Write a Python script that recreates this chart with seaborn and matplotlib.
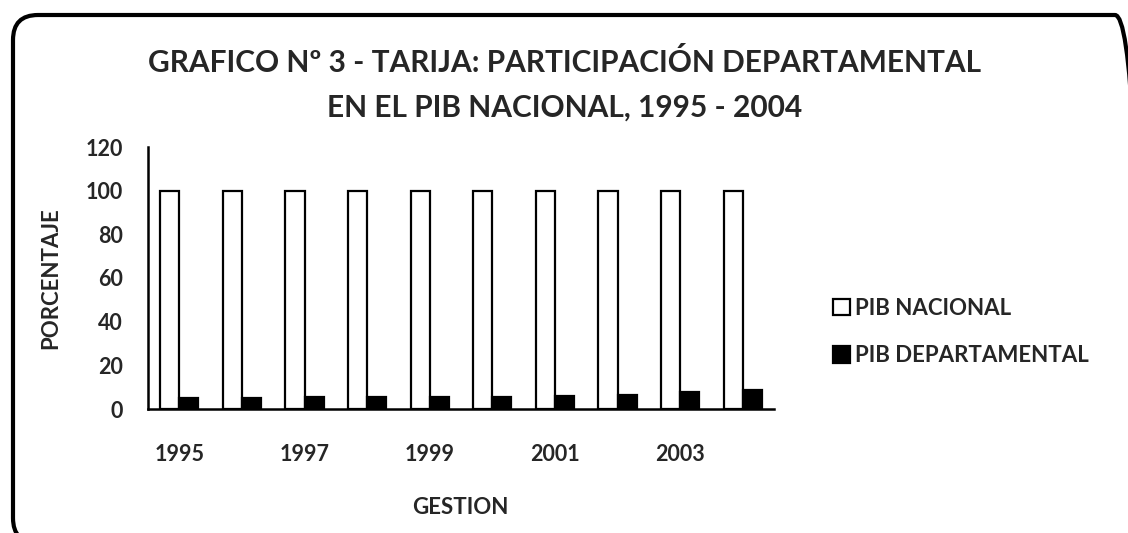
import matplotlib
matplotlib.use("Agg")
import matplotlib.pyplot as plt
from matplotlib.patches import FancyBboxPatch, Patch
from matplotlib.transforms import IdentityTransform
import seaborn as sns
import pandas as pd

years = ["1995", "1996", "1997", "1998", "1999", "2000", "2001", "2002", "2003", "2004"]
pib_nacional = [100, 100, 100, 100, 100, 100, 100, 100, 100, 100]
pib_departamental = [5.0, 5.0, 5.6, 5.6, 5.6, 5.6, 6.1, 6.6, 8.0, 8.9]
series = ["PIB NACIONAL", "PIB DEPARTAMENTAL"]
y_ticks = [0, 20, 40, 60, 80, 100, 120]

df = pd.DataFrame({
    "GESTION": years * 2,
    "valor": pib_nacional + pib_departamental,
    "serie": [series[0]] * len(years) + [series[1]] * len(years),
})

sns.set_theme(style="white")
plt.rcParams["font.family"] = ["Lato", "DejaVu Sans"]
plt.rcParams["font.weight"] = "bold"

W, H = 1128, 533
fig = plt.figure(figsize=(W / 100, H / 100), dpi=100)
ax = fig.add_axes([148 / W, 1 - 409 / H, (774 - 148) / W, (409 - 147) / H])

sns.barplot(data=df, x="GESTION", y="valor", hue="serie", hue_order=series,
            palette=["white", "black"], edgecolor="black", linewidth=1.6,
            width=0.61, ax=ax, legend=False)

ax.set_ylim(0, 120)
ax.set_yticks(y_ticks)
ax.set_yticklabels([str(t) for t in y_ticks], fontsize=15.5, fontweight="bold")
ax.set_xlim(-0.5, len(years) - 0.5)
ax.set_xticks(range(len(years)))
ax.set_xticklabels([y if i % 2 == 0 else "" for i, y in enumerate(years)],
                   fontsize=15.5, fontweight="bold")
ax.tick_params(axis="both", length=0)
ax.tick_params(axis="x", pad=25)
ax.tick_params(axis="y", pad=18)
for s in ["top", "right"]:
    ax.spines[s].set_visible(False)
for s in ["left", "bottom"]:
    ax.spines[s].set_color("black")
    ax.spines[s].set_linewidth(1.8)
ax.set_xlabel("")
ax.set_ylabel("")

fig.text(51 / W, 1 - 278 / H, "PORCENTAJE", rotation=90, ha="center", va="center",
         fontsize=16, fontweight="bold")
fig.text(460 / W, 1 - 508 / H, "GESTION", ha="center", va="center",
         fontsize=16, fontweight="bold")
fig.text(565 / W, 1 - 85 / H,
         "GRAFICO Nº 3 - TARIJA: PARTICIPACIÓN DEPARTAMENTAL\nEN EL PIB NACIONAL, 1995 - 2004",
         ha="center", va="center", fontsize=21.5, fontweight="bold", linespacing=1.7)

handles = [Patch(facecolor="white", edgecolor="black", linewidth=1.6),
           Patch(facecolor="black", edgecolor="black", linewidth=1.6)]
fig.legend(handles, series, loc="center left", bbox_to_anchor=(833 / W, 1 - 332 / H),
           frameon=False, prop={"weight": "bold", "size": 16}, borderpad=0,
           borderaxespad=0, handlelength=0.75, handleheight=0.75, handletextpad=0.25,
           labelspacing=1.2)

frame = FancyBboxPatch((13, -10), 1140 - 13, 518 + 10,
                       boxstyle="round,pad=0,rounding_size=25",
                       transform=IdentityTransform(), facecolor="none",
                       edgecolor="black", linewidth=3.0, clip_on=False)
fig.patches.append(frame)

fig.savefig("out.png", dpi=100, facecolor="white")
